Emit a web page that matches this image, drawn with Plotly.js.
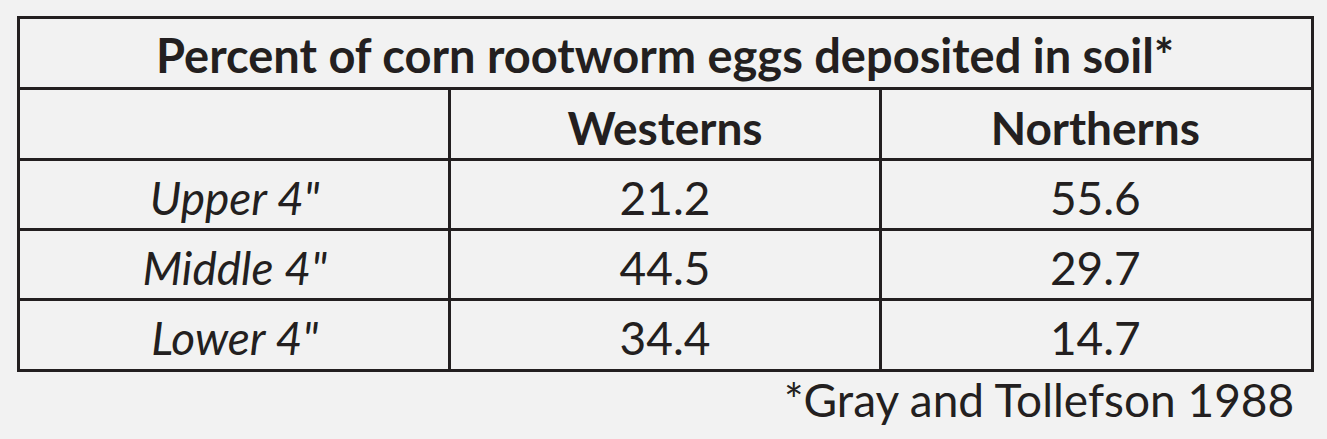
<!DOCTYPE html>
<html>
<head>
<meta charset="utf-8">
<script src="https://cdn.plot.ly/plotly-3.0.1.min.js"></script>
<style>html,body{margin:0;padding:0;background:#f2f2f2;}</style>
</head>
<body>
<div id="chart" style="width:1327px;height:439px;"></div>
<script>
const tableTitle = "Percent of corn rootworm eggs deposited in soil*";
const columnHeaders = ["", "Westerns", "Northerns"];
const rowLabels = ['Upper 4"', 'Middle 4"', 'Lower 4"'];
const westerns = [21.2, 44.5, 34.4];
const northerns = [55.6, 29.7, 14.7];
const sourceNote = "*Gray and Tollefson 1988";

const W = 1327, H = 439;
const FONT = "Lato, 'Open Sans', sans-serif";
const FS = 46;
const INK = "#231f20";
const BG = "#f2f2f2";
const xDom = [19.5 / W, 1310.5 / W];
const titleDom = [1 - 86.5 / H, 1 - 18.5 / H];
const bodyDom = [1 - 369 / H, 1 - 89.5 / H];
const TEXT_DROP_PX = 9; // text sits slightly below cell centre

const nCols = columnHeaders.length;
const nRows = rowLabels.length + 1; // header row + body rows
const colIdx = columnHeaders.map((_, i) => i);
const rowIdx = rowLabels.map((_, i) => i + 1);
const boundaries = n => Array.from({length: n - 1}, (_, i) => i + 0.5);

const titleDrop = TEXT_DROP_PX / ((titleDom[1] - titleDom[0]) * H / 2);
const bodyDrop = TEXT_DROP_PX / ((bodyDom[1] - bodyDom[0]) * H / nRows);

const textFont = {family: FONT, size: FS, color: INK};
const base = {type: "scatter", mode: "text", textposition: "middle center",
  hoverinfo: "skip", cliponaxis: false, textfont: textFont};

const traces = [
  // grid frame of the body (no visible marks, only sets up the subplot)
  {type: "scatter", mode: "none", xaxis: "x2", yaxis: "y2", x: colIdx, y: colIdx.map(() => 0),
   hoverinfo: "skip"},
  Object.assign({}, base, {xaxis: "x", yaxis: "y", x: [0], y: [0],
    text: ["<b>" + tableTitle + "</b>"], textfont: Object.assign({}, textFont, {size: 47})}),
  Object.assign({}, base, {xaxis: "x3", yaxis: "y3",
    x: colIdx.slice(1), y: colIdx.slice(1).map(() => 0),
    text: columnHeaders.slice(1).map(h => "<b>" + h + "</b>")}),
  Object.assign({}, base, {xaxis: "x3", yaxis: "y3",
    x: rowIdx.map(() => 0), y: rowIdx, text: rowLabels.map(r => "<i>" + r + "</i>")}),
  Object.assign({}, base, {xaxis: "x3", yaxis: "y3",
    x: rowIdx.map(() => 1), y: rowIdx, text: westerns.map(v => v.toFixed(1))}),
  Object.assign({}, base, {xaxis: "x3", yaxis: "y3",
    x: rowIdx.map(() => 2), y: rowIdx, text: northerns.map(v => v.toFixed(1))})
];

const frameAxis = {showline: true, mirror: true, linewidth: 3, linecolor: INK,
  ticks: "", showticklabels: false, zeroline: false, fixedrange: true};
const hiddenAxis = {visible: false, showgrid: false, zeroline: false, fixedrange: true};

const layout = {
  width: W, height: H,
  margin: {l: 0, r: 0, t: 0, b: 0},
  paper_bgcolor: BG,
  plot_bgcolor: "rgba(0,0,0,0)",
  showlegend: false,
  xaxis: Object.assign({}, frameAxis, {anchor: "y", domain: xDom, range: [-1, 1], showgrid: false}),
  yaxis: Object.assign({}, frameAxis, {anchor: "x", domain: titleDom,
    range: [-1 + titleDrop, 1 + titleDrop], showgrid: false}),
  xaxis2: Object.assign({}, frameAxis, {anchor: "y2", domain: xDom, range: [-0.5, nCols - 0.5],
    tickmode: "array", tickvals: boundaries(nCols), showgrid: true, gridcolor: INK, gridwidth: 3}),
  yaxis2: Object.assign({}, frameAxis, {anchor: "x2", domain: bodyDom, range: [nRows - 0.5, -0.5],
    tickmode: "array", tickvals: boundaries(nRows), showgrid: true, gridcolor: INK, gridwidth: 3}),
  xaxis3: Object.assign({}, hiddenAxis, {anchor: "y3", domain: xDom, range: [-0.5, nCols - 0.5]}),
  yaxis3: Object.assign({}, hiddenAxis, {anchor: "x3", domain: bodyDom,
    range: [nRows - 0.5 - bodyDrop, -0.5 - bodyDrop]}),
  annotations: [{
    text: sourceNote,
    xref: "paper", yref: "paper",
    x: 1296 / W, y: 1 - 399 / H,
    xanchor: "right", yanchor: "middle",
    showarrow: false,
    font: textFont
  }]
};

Plotly.newPlot("chart", traces, layout, {displayModeBar: false, staticPlot: true});
</script>
</body>
</html>
